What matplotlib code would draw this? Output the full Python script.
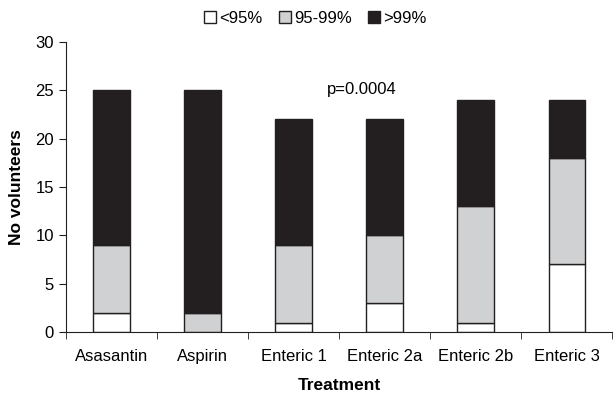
import numpy as np
import matplotlib.pyplot as plt

treatments = ["Asasantin", "Aspirin", "Enteric 1", "Enteric 2a", "Enteric 2b", "Enteric 3"]
below95 = [2, 0, 1, 3, 1, 7]
mid95_99 = [7, 2, 8, 7, 12, 11]
above99 = [16, 23, 13, 12, 11, 6]
series_labels = ["<95%", "95-99%", ">99%"]

plt.rcParams['font.family'] = ['Liberation Sans', 'DejaVu Sans']

fig = plt.figure(figsize=(6.16, 3.95), dpi=100)
ax = fig.add_axes([0.107, 0.159, 0.887, 0.735])

x = np.arange(len(treatments))
w = 0.4
lo = np.array(below95)
mi = np.array(mid95_99)
hi = np.array(above99)
b1 = ax.bar(x, lo, w, color='white', edgecolor='#231f20', linewidth=1.0, label=series_labels[0])
b2 = ax.bar(x, mi, w, bottom=lo, color='#d0d1d3', edgecolor='#231f20', linewidth=1.0, label=series_labels[1])
b3 = ax.bar(x, hi, w, bottom=lo + mi, color='#231f20', edgecolor='#231f20', linewidth=1.0, label=series_labels[2])

ax.set_xlim(-0.5, len(treatments) - 0.5)
ax.set_ylim(0, 30)
ax.set_yticks(range(0, 31, 5))
ax.set_xticks(x)
ax.set_xticklabels(treatments, fontsize=12)
ax.set_xticks(np.arange(-0.5, len(treatments)), minor=True)
ax.tick_params(axis='x', which='major', length=0, pad=12)
ax.tick_params(axis='x', which='minor', length=5, direction='out', color='#231f20')
ax.tick_params(axis='y', length=5, labelsize=12, color='#231f20')
for s in ['top', 'right']:
    ax.spines[s].set_visible(False)
for s in ['left', 'bottom']:
    ax.spines[s].set_color('#231f20')

ax.set_ylabel("No volunteers", fontsize=12.5, fontweight='bold', labelpad=8)
ax.set_xlabel("Treatment", fontsize=12.5, fontweight='bold', labelpad=10)
ax.text(2.75, 25.1, "p=0.0004", fontsize=12, ha='center', va='center')

fig.legend(handles=[b1, b2, b3], loc='upper center', bbox_to_anchor=(0.512, 1.01), ncol=3,
           frameon=False, fontsize=12, handlelength=0.7, handleheight=0.7,
           handletextpad=0.2, columnspacing=1.0)

fig.savefig("out.png", dpi=100)
